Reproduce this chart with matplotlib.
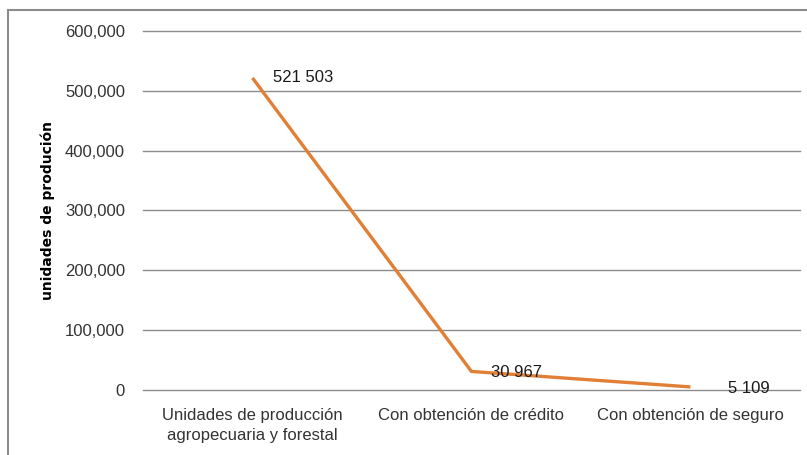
import matplotlib.pyplot as plt
from matplotlib.patches import Rectangle
from matplotlib.ticker import FuncFormatter

categories = ['Unidades de producción\nagropecuaria y forestal',
              'Con obtención de crédito',
              'Con obtención de seguro']
values = [521503, 30967, 5109]
value_labels = ['521 503', '30 967', '5 109']

plt.rcParams['font.family'] = ['Liberation Sans Narrow', 'Liberation Sans', 'DejaVu Sans']

fig = plt.figure(figsize=(8.07, 4.55), dpi=100)
ax = fig.add_axes([0.1772, 0.1429, 0.814, 0.789])

# chart border, partly cut off at the right and bottom
fig.patches.append(Rectangle((8 / 807, -0.05), 1.2, 1 - 10 / 455 + 0.05,
                             transform=fig.transFigure, fill=False,
                             edgecolor='#8c8c8c', linewidth=1.5, clip_on=False))

x = range(len(categories))
ax.plot(x, values, color='#e07f35', linewidth=2.4, solid_capstyle='butt', zorder=3)

offsets = [(15, 0), (14, -1), (27, -1)]
for xi, v, lab, off in zip(x, values, value_labels, offsets):
    ax.annotate(lab, (xi, v), xytext=off, textcoords='offset points',
                fontsize=12, va='center', ha='left', color='#1a1a1a', zorder=4)

ax.set_xlim(-0.5, 2.5)
ax.set_ylim(0, 600000)
ax.set_yticks(range(0, 600001, 100000))
ax.yaxis.set_major_formatter(FuncFormatter(lambda v, p: f'{int(v):,}'))
ax.set_xticks(list(x))
ax.set_xticklabels(categories, fontsize=12, color='#333333', linespacing=1.45)
ax.tick_params(axis='y', labelsize=12, labelcolor='#333333', length=0, pad=13)
ax.tick_params(axis='x', length=0, pad=13)

ax.grid(axis='y', color='#8c8c8c', linewidth=1)
for gl in ax.get_ygridlines():
    gl.set_clip_on(False)
ax.set_axisbelow(True)
for s in ax.spines.values():
    s.set_visible(False)

ax.set_ylabel('unidades de produción', fontsize=10, fontweight='bold',
              family=['DejaVu Sans'], labelpad=7)

fig.savefig('out.png', dpi=100)
